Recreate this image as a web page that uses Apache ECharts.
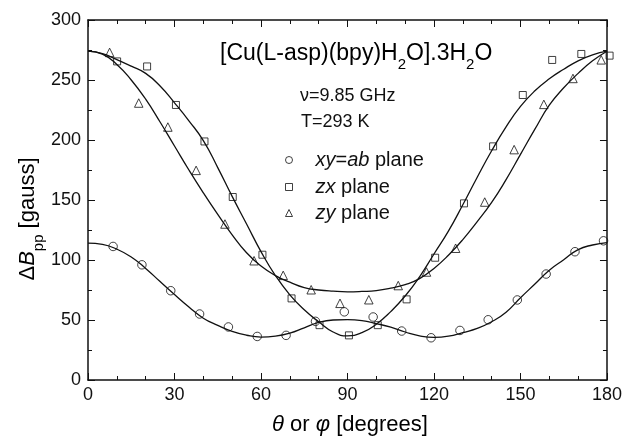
<!DOCTYPE html>
<html><head><meta charset="utf-8">
<script src="https://cdn.jsdelivr.net/npm/echarts@6/dist/echarts.min.js"></script>
<style>html,body{margin:0;padding:0;background:#fff}#c{width:625px;height:442px}</style>
</head><body><div id="c"></div>
<script>
// measured points
const xyAngles = [8.7,18.7,28.7,38.7,48.7,58.7,68.7,78.9,88.9,98.9,108.8,119,129,138.8,148.9,158.9,168.9,178.8];
const xyValues = [111.3,96,74.4,55,44.2,36.3,37.2,48.9,56.8,52.5,40.8,35.2,41.3,50.2,66.7,88.3,106.9,116];
const zxAngles = [10.1,20.5,30.5,40.4,50.2,60.5,70.6,80.3,90.5,100.5,110.5,120.4,130.4,140.5,150.8,161,171.1,180.9];
const zxValues = [265.5,261.3,229.2,198.8,152.5,104.4,68,45.7,37.2,45.7,67.2,101.9,147.2,194.7,237.5,266.7,271.7,270.3];
const zyAngles = [7.5,17.6,27.7,37.5,47.5,57.6,67.7,77.4,87.4,97.4,107.6,117.4,127.5,137.6,147.8,158.1,168.2,178];
const zyValues = [273,230.8,210.8,174.7,130,99.4,87.2,75.2,63.9,66.9,78.7,90,109.8,148.3,192,229.7,251.3,266.8];
// fitted curves
const fitAngles = [0,5,10,15,20,25,30,35,40,45,50,55,60,65,70,75,80,85,90,95,100,105,110,115,120,125,130,135,140,145,150,155,160,165,170,175,180];
const xyFit = [114,113,109,102.5,93,82,71.2,60.8,51.5,45.5,40.5,37.3,35.8,36.5,39,43.5,48,50,50.3,49.5,47,44,40,36.8,35.5,36.5,39.5,43,48.5,56.5,68.5,80,91.5,100.2,108.7,112.5,114.5];
const zxFit = [274,272,267,261.5,255.5,245,231,216,199.5,177,153,130,107,87,71,58.5,48.5,40,36.8,39.5,46.5,57,70,86,105,124,146,169,191,211,228,241,251,259,266,271,274];
const zyFit = [274,271.5,263,250,234,215,195,175,156,138,121,106,95,87,81.5,77,75,74,73.5,73.8,74.5,76.5,79.5,84.5,93,104,117,132,148,167,188,209,229,243.5,255.5,266,274];
const xTicks = {min:0, max:180, interval:30};
const yTicks = {min:0, max:300, interval:50};

const F = "'Liberation Sans', Arial, sans-serif";
const chart = echarts.init(document.getElementById('c'));
const pair = (xs, ys) => xs.map((x, i) => [x, ys[i]]);
const axisCommon = {
  axisLine: {show: true, onZero: false, lineStyle: {color: '#111', width: 1.5}},
  axisTick: {show: true, inside: true, length: 7, lineStyle: {color: '#111', width: 1}},
  minorTick: {show: true, length: 4, lineStyle: {color: '#111', width: 1}},
  splitLine: {show: false}
};
const markStyle = {color: 'transparent', borderColor: '#111', borderWidth: 1};
const lineStyle = {color: '#111', width: 1.3};
const legendRich = {i: {fontStyle: 'italic', fontSize: 20, fontFamily: F, color: '#111', lineHeight: 24}};
const legendNames = {'xy=ab plane': '{i|xy}={i|ab} plane', 'zx plane': '{i|zx} plane', 'zy plane': '{i|zy} plane'};
const mkLegend = (name, centerY) => ({
  data: [name], left: 285, top: centerY - 12, padding: 0, itemWidth: 7, itemHeight: 7,
  selectedMode: false,
  itemStyle: {color: 'transparent', borderColor: '#111', borderWidth: 1},
  formatter: n => legendNames[n],
  textStyle: {fontSize: 20, fontFamily: F, color: '#111', lineHeight: 24, padding: [0, 0, 0, 18], rich: legendRich}
});
const mainRich = {
  m: {fontSize: 23, fontFamily: F, color: '#111', lineHeight: 27, verticalAlign: 'top'},
  mi: {fontSize: 23, fontFamily: F, fontStyle: 'italic', color: '#111', lineHeight: 27, verticalAlign: 'top'},
  s: {fontSize: 15, fontFamily: F, color: '#111', lineHeight: 15, verticalAlign: 'top', padding: [15, 0, 0, 0]}
};
const axRich = {
  m: {fontSize: 22, fontFamily: F, color: '#111', lineHeight: 26, verticalAlign: 'top'},
  mi: {fontSize: 22, fontFamily: F, fontStyle: 'italic', color: '#111', lineHeight: 26, verticalAlign: 'top'},
  s: {fontSize: 15, fontFamily: F, color: '#111', lineHeight: 15, verticalAlign: 'top', padding: [14, 0, 0, 0]}
};

chart.setOption({
  backgroundColor: '#fff',
  animation: false,
  grid: {left: 88, top: 20, width: 520, height: 360, containLabel: false},
  xAxis: [
    Object.assign({type: 'value', position: 'bottom', min: xTicks.min, max: xTicks.max, interval: xTicks.interval,
      minorTick: Object.assign({}, axisCommon.minorTick, {splitNumber: 3}),
      axisLabel: {fontSize: 18, fontFamily: F, color: '#111', margin: 6}}, {axisLine: axisCommon.axisLine, axisTick: axisCommon.axisTick, splitLine: axisCommon.splitLine}),
    Object.assign({type: 'value', position: 'top', min: xTicks.min, max: xTicks.max, interval: xTicks.interval,
      minorTick: Object.assign({}, axisCommon.minorTick, {splitNumber: 3}),
      axisLabel: {show: false}}, {axisLine: axisCommon.axisLine, axisTick: axisCommon.axisTick, splitLine: axisCommon.splitLine})
  ],
  yAxis: [
    Object.assign({type: 'value', position: 'left', min: yTicks.min, max: yTicks.max, interval: yTicks.interval,
      minorTick: Object.assign({}, axisCommon.minorTick, {splitNumber: 2}),
      axisLabel: {fontSize: 18, fontFamily: F, color: '#111', margin: 7}}, {axisLine: axisCommon.axisLine, axisTick: axisCommon.axisTick, splitLine: axisCommon.splitLine}),
    Object.assign({type: 'value', position: 'right', min: yTicks.min, max: yTicks.max, interval: yTicks.interval,
      minorTick: Object.assign({}, axisCommon.minorTick, {splitNumber: 2}),
      axisLabel: {show: false}}, {axisLine: axisCommon.axisLine, axisTick: axisCommon.axisTick, splitLine: axisCommon.splitLine})
  ],
  legend: [mkLegend('xy=ab plane', 160), mkLegend('zx plane', 187), mkLegend('zy plane', 213)],
  series: [
    {name: 'xy fit', type: 'line', data: pair(fitAngles, xyFit), smooth: 0.5, showSymbol: false, lineStyle: lineStyle, z: 2},
    {name: 'zx fit', type: 'line', data: pair(fitAngles, zxFit), smooth: 0.5, showSymbol: false, lineStyle: lineStyle, z: 2},
    {name: 'zy fit', type: 'line', data: pair(fitAngles, zyFit), smooth: 0.5, showSymbol: false, lineStyle: lineStyle, z: 2},
    {name: 'xy=ab plane', type: 'scatter', data: pair(xyAngles, xyValues), symbol: 'circle', symbolSize: 8.5, itemStyle: markStyle, clip: false, z: 3},
    {name: 'zx plane', type: 'scatter', data: pair(zxAngles, zxValues), symbol: 'rect', symbolSize: 7, itemStyle: markStyle, clip: false, z: 3},
    {name: 'zy plane', type: 'scatter', data: pair(zyAngles, zyValues), symbol: 'triangle', symbolSize: 8.5, itemStyle: markStyle, clip: false, z: 3}
  ],
  graphic: [
    {type: 'text', left: 220, top: 42, style: {text: '{m|[Cu(L-asp)(bpy)H}{s|2}{m|O].3H}{s|2}{m|O}', rich: mainRich}},
    {type: 'text', x: 300, y: 96, style: {text: 'ν=9.85 GHz', fontSize: 18, fontFamily: F, fill: '#111', verticalAlign: 'middle', align: 'left'}},
    {type: 'text', x: 301, y: 122, style: {text: 'T=293 K', fontSize: 18, fontFamily: F, fill: '#111', verticalAlign: 'middle', align: 'left'}},
    {type: 'text', x: 30, y: 219, rotation: Math.PI / 2, style: {text: '{m|Δ}{mi|B}{s|pp}{m| [gauss]}', rich: axRich, align: 'center', verticalAlign: 'middle'}},
    {type: 'text', x: 350, y: 427, style: {text: '{mi|θ}{m| or }{mi|φ}{m| [degrees]}', rich: axRich, align: 'center', verticalAlign: 'middle'}}
  ]
});
</script></body></html>
